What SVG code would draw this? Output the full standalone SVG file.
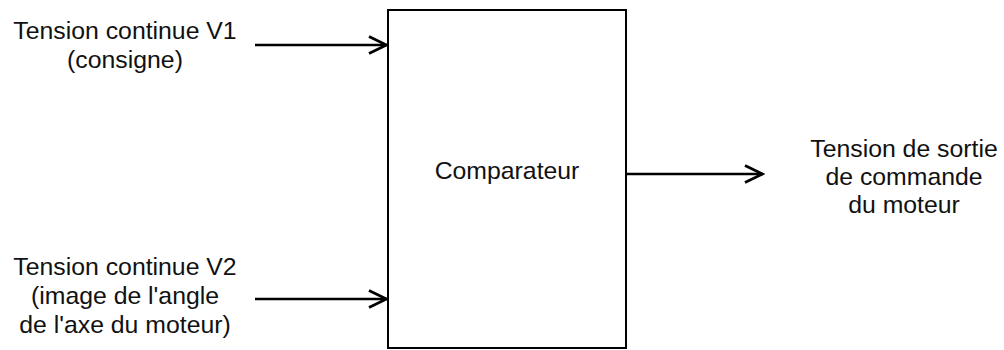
<svg xmlns="http://www.w3.org/2000/svg" width="1004" height="350" viewBox="0 0 1004 350">
  <style>
    text { font-family: "Liberation Sans", Arial, sans-serif; font-size: 24.8px; fill: #111; text-anchor: middle; }
    .box { fill: #fff; stroke: #000; stroke-width: 2; }
    .wire { fill: none; stroke: #000; stroke-width: 2.6; }
  </style>
  <defs>
    <marker id="arrow" markerWidth="22" markerHeight="22" refX="20" refY="11" markerUnits="userSpaceOnUse" orient="auto">
      <path d="M 2 2.5 L 19.5 11 L 2 19.5" fill="none" stroke="#000" stroke-width="2.8"/>
    </marker>
  </defs>
  <rect width="1004" height="350" fill="#fff"/>
  <g id="connectors">
    <line class="wire" x1="255" y1="45" x2="387" y2="45" marker-end="url(#arrow)"/>
    <line class="wire" x1="255" y1="299" x2="387" y2="299" marker-end="url(#arrow)"/>
    <line class="wire" x1="626" y1="174" x2="763" y2="174" marker-end="url(#arrow)"/>
  </g>
  <g id="comparateur">
    <rect class="box" x="388" y="10" width="238" height="338"/>
    <text x="507" y="179">Comparateur</text>
  </g>
  <g id="v1">
    <text x="125" y="39">Tension continue V1</text>
    <text x="125" y="68">(consigne)</text>
  </g>
  <g id="v2">
    <text x="125" y="275">Tension continue V2</text>
    <text x="125" y="304">(image de l'angle</text>
    <text x="125" y="333">de l'axe du moteur)</text>
  </g>
  <g id="sortie">
    <text x="904" y="157">Tension de sortie</text>
    <text x="904" y="185">de commande</text>
    <text x="904" y="213">du moteur</text>
  </g>
</svg>
